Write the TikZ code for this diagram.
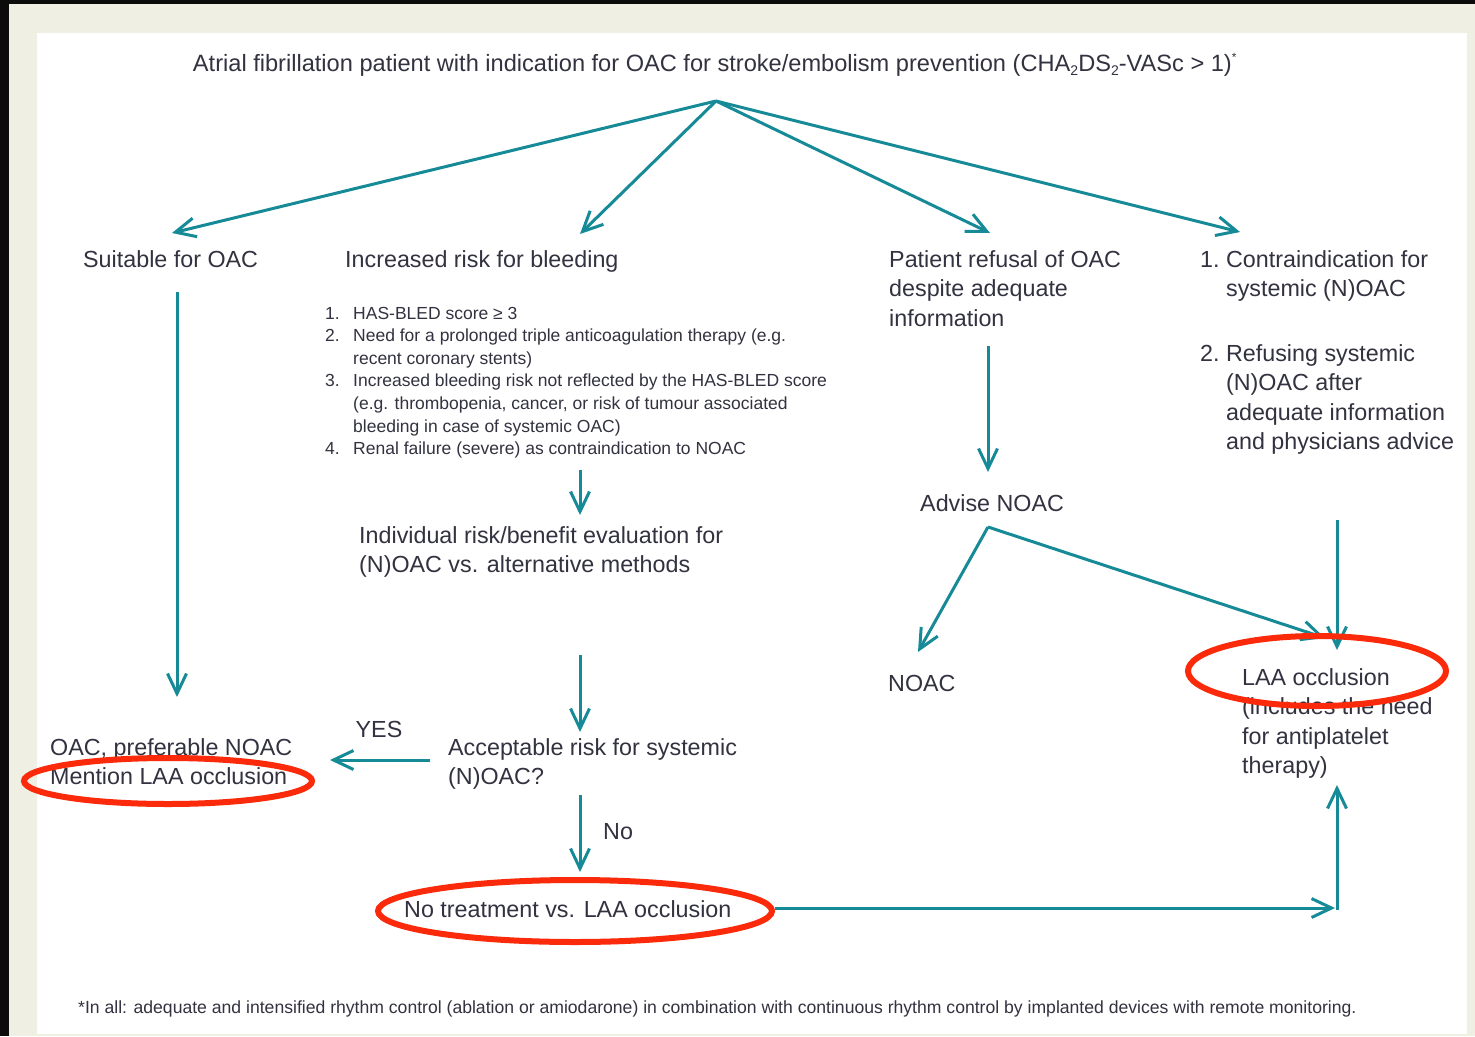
\documentclass[tikz,border=0pt]{standalone}
\usepackage{fontspec}
\setmainfont{Liberation Sans}
\usetikzlibrary{arrows.meta}
\definecolor{teal1}{RGB}{22,138,150}
\definecolor{txt}{RGB}{50,50,64}
\definecolor{ring}{RGB}{250,42,10}
\definecolor{cream}{RGB}{239,239,227}
\definecolor{blk}{RGB}{12,12,12}
\newcommand{\lowtwo}{\raisebox{-0.35ex}{\fontsize{14}{14}\selectfont 2}}
\tikzset{
  conn/.style={draw=teal1, line width=3pt, line join=round, -{Straight Barb[length=20pt,width=19pt,line width=3pt]}},
  big/.style={font=\fontsize{23.3}{29.5}\selectfont, text=txt, inner sep=0pt, anchor=base west},
  small/.style={font=\fontsize{17.5}{22.6}\selectfont, text=txt, inner sep=0pt, anchor=base west},
  foot/.style={font=\fontsize{17.6}{20}\selectfont, text=txt, inner sep=0pt, anchor=base west},
  ringline/.style={draw=ring, line width=6pt}
}
\begin{document}
\begin{tikzpicture}[x=1pt,y=-1pt]
\useasboundingbox (0,0) rectangle (1475,1036);
\fill[blk] (0,0) rectangle (1475,1036);
\fill[cream] (9,4) rectangle (1475,1036);
\fill[white] (37,33) rectangle (1467,1034);

% nodes
\node[big, anchor=base, font=\fontsize{23.6}{29.5}\selectfont] (title) at (715,71) {Atrial fibrillation patient with indication for OAC for stroke/embolism prevention (CHA\lowtwo DS\lowtwo-VASc > 1)\textsuperscript{\fontsize{12}{12}\selectfont *}};
\node[big] (suit) at (83,267) {Suitable for OAC};
\node[big] (incr) at (345,267) {Increased risk for bleeding};
\node[big] (refuse) at (889,267) {\begin{tabular}[t]{@{}l@{}}Patient refusal of OAC\\despite adequate\\information\end{tabular}};
\node[big] (contra1) at (1200,267) {\begin{tabular}[t]{@{}l@{\ }l@{}}1.&Contraindication for\\&systemic (N)OAC\end{tabular}};
\node[big] (contra2) at (1200,361) {\begin{tabular}[t]{@{}l@{\ }l@{}}2.&Refusing systemic\\&(N)OAC after\\&adequate information\\&and physicians advice\end{tabular}};
\node[small] (list) at (325,319) {\begin{tabular}[t]{@{}p{28pt}@{}l@{}}
1.&HAS-BLED score ≥ 3\\
2.&Need for a prolonged triple anticoagulation therapy (e.g.\\
&recent coronary stents)\\
3.&Increased bleeding risk not reflected by the HAS-BLED score\\
&(e.g. thrombopenia, cancer, or risk of tumour associated\\
&bleeding in case of systemic OAC)\\
4.&Renal failure (severe) as contraindication to NOAC
\end{tabular}};
\node[big] (indiv) at (359,543) {\begin{tabular}[t]{@{}l@{}}Individual risk/benefit evaluation for\\(N)OAC vs. alternative methods\end{tabular}};
\node[big] (accept) at (448,755) {\begin{tabular}[t]{@{}l@{}}Acceptable risk for systemic\\(N)OAC?\end{tabular}};
\node[big] (oacpref) at (50,755) {\begin{tabular}[t]{@{}l@{}}OAC, preferable NOAC\\Mention LAA occlusion\end{tabular}};
\node[big, anchor=base] (yes) at (379,737) {YES};
\node[big] (no) at (603,839) {No};
\node[big] (notreat) at (404,917) {No treatment vs. LAA occlusion};
\node[big] (advise) at (920,511) {Advise NOAC};
\node[big] (noac) at (888,691) {NOAC};
\node[big] (laa) at (1242,685) {\begin{tabular}[t]{@{}l@{}}LAA occlusion\\(includes the need\\for antiplatelet\\therapy)\end{tabular}};
\node[foot] (footer) at (78,1013) {*In all: adequate and intensified rhythm control (ablation or amiodarone) in combination with continuous rhythm control by implanted devices with remote monitoring.};

% connector points
\coordinate (split) at (716,101);
\coordinate (toSuit) at (172,233);
\coordinate (toIncr) at (580,234);
\coordinate (toRefuse) at (990,233);
\coordinate (toContra) at (1240,232);
\coordinate (suitOut) at (177,292);
\coordinate (toOacpref) at (177,697);
\coordinate (listOut) at (580,470);
\coordinate (toIndiv) at (580,515);
\coordinate (indivOut) at (580,655);
\coordinate (toAccept) at (580,732);
\coordinate (acceptLeft) at (430,760);
\coordinate (toOacprefYes) at (330,760);
\coordinate (acceptDown) at (580,795);
\coordinate (toNotreat) at (580,872);
\coordinate (notreatOut) at (775,908);
\coordinate (corner) at (1335,908);
\coordinate (cornerUp) at (1337,909.5);
\coordinate (toLaaBottom) at (1337,785);
\coordinate (refuseOut) at (988,346);
\coordinate (toAdvise) at (988,472);
\coordinate (adviseOut) at (988,527);
\coordinate (toNoac) at (918,652);
\coordinate (toLaaDiag) at (1325,638);
\coordinate (contraOut) at (1337,520);
\coordinate (toLaaTop) at (1337,650);

% connectors
\draw[conn] (split) -- (toSuit);
\draw[conn] (split) -- (toIncr);
\draw[conn] (split) -- (toRefuse);
\draw[conn] (split) -- (toContra);
\draw[conn] (suitOut) -- (toOacpref);
\draw[conn] (listOut) -- (toIndiv);
\draw[conn] (indivOut) -- (toAccept);
\draw[conn] (acceptLeft) -- (toOacprefYes);
\draw[conn] (acceptDown) -- (toNotreat);
\draw[conn] (notreatOut) -- (corner);
\draw[conn] (cornerUp) -- (toLaaBottom);
\draw[conn] (refuseOut) -- (toAdvise);
\draw[conn] (adviseOut) -- (toNoac);
\draw[conn] (adviseOut) -- (toLaaDiag);
\draw[conn] (contraOut) -- (toLaaTop);

% red highlight rings
\draw[ringline] (168,781) ellipse [x radius=144pt, y radius=23pt];
\draw[ringline] (575,911) ellipse [x radius=197pt, y radius=31pt];
\draw[ringline] (1317,671) ellipse [x radius=129pt, y radius=35pt];
\end{tikzpicture}
\end{document}
